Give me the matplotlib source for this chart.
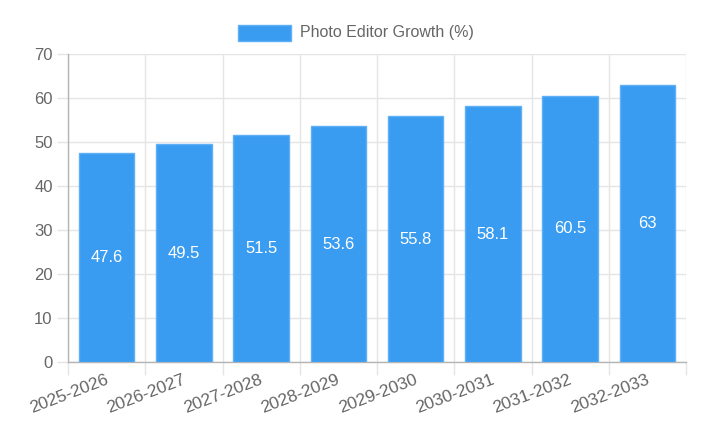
import matplotlib.pyplot as plt
from matplotlib.patches import Rectangle
import matplotlib.transforms as mtransforms
import numpy as np

periods = ["2025-2026", "2026-2027", "2027-2028", "2028-2029",
           "2029-2030", "2030-2031", "2031-2032", "2032-2033"]
growth = [47.6, 49.5, 51.5, 53.6, 55.8, 58.1, 60.5, 63]
series_name = "Photo Editor Growth (%)"
y_ticks = [0, 10, 20, 30, 40, 50, 60, 70]

BAR = "#399cf1"
EDGE = "#5fb0f5"
TXT = "#666666"
GRID = "#e5e5e5"
AXIS = "#b4b4b4"

plt.rcParams["font.family"] = ["Liberation Sans", "DejaVu Sans"]

W, H = 723, 428
fig = plt.figure(figsize=(W / 100, H / 100), dpi=100)
ax = fig.add_axes([68 / W, 1 - 362 / H, (686 - 68) / W, (362 - 54) / H])

x = np.arange(len(periods))
bars = ax.bar(x, growth, width=0.72, color=BAR, edgecolor=EDGE, linewidth=1, zorder=3)

for xi, v in zip(x, growth):
    ax.text(xi, v / 2, f"{v:g}", ha="center", va="center", color="white",
            fontsize=12, zorder=4)

ax.set_xlim(-0.5, len(periods) - 0.5)
ax.set_ylim(0, 70)
ax.set_yticks(y_ticks)
ax.set_yticklabels([str(t) for t in y_ticks])

# vertical grid at category boundaries (offset grid like the reference)
bounds = np.arange(len(periods) + 1) - 0.5
ax.set_xticks(bounds, minor=True)
ax.set_xticks(x)
ax.set_xticklabels([])
ax.grid(True, which="minor", axis="x", color=GRID, linewidth=1, zorder=0)
ax.grid(True, which="major", axis="y", color=GRID, linewidth=1, zorder=0)
ax.tick_params(axis="x", which="major", length=0)
ax.tick_params(axis="x", which="minor", length=9, color=GRID, width=1)
ax.tick_params(axis="y", length=8, color=GRID, width=1, labelcolor=TXT,
               labelsize=12, pad=3)

for s in ["top", "right"]:
    ax.spines[s].set_visible(False)
for s in ["left", "bottom"]:
    ax.spines[s].set_color(AXIS)
    ax.spines[s].set_linewidth(1)

# rotated category labels
offset = mtransforms.ScaledTranslation(1 / 100, -17 / 100, fig.dpi_scale_trans)
trans = ax.get_xaxis_transform() + offset
for xi, lab in zip(x, periods):
    ax.text(xi, 0, lab, rotation=21, rotation_mode="anchor", ha="right",
            va="center", color=TXT, fontsize=12.5, transform=trans)

# legend on top
fig.patches.append(Rectangle((238 / W, 1 - 41 / H), 53 / W, 16 / H,
                             transform=fig.transFigure, facecolor=BAR,
                             edgecolor=EDGE, linewidth=1))
fig.text(300 / W, 1 - 33 / H, series_name, ha="left", va="center",
         color=TXT, fontsize=11.5)

fig.savefig("out.png", dpi=100)
